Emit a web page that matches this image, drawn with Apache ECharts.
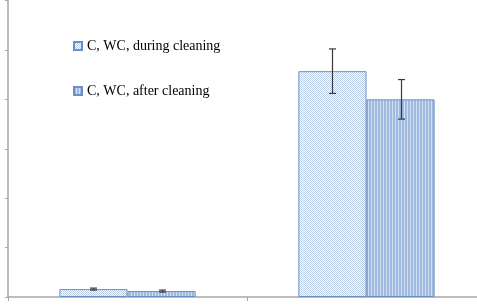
<!DOCTYPE html>
<html>
<head>
<meta charset="utf-8">
<script src="https://cdn.jsdelivr.net/npm/echarts@6/dist/echarts.min.js"></script>
<style>
  html, body { margin: 0; padding: 0; background: #fff; overflow: hidden; }
  /* plot area runs past the right edge of the picture, so the canvas is a bit wider */
  #chart { width: 486px; height: 307px; }
</style>
</head>
<body>
<div id="chart"></div>
<script>
// two groups, two series, error bars (axis 0..6)
const categories = ["A", "B"];
const seriesNames = ["C, WC, during cleaning", "C, WC, after cleaning"];
const duringVals = [0.16, 4.57];
const duringErr = [0.02, 0.45];
const afterVals = [0.12, 4.0];
const afterErr = [0.02, 0.4];
const yTicks = [0, 1, 2, 3, 4, 5, 6];

function pattern(w, h, draw) {
  const c = document.createElement("canvas");
  c.width = w; c.height = h;
  const ctx = c.getContext("2d");
  ctx.fillStyle = "#fff";
  ctx.fillRect(0, 0, w, h);
  draw(ctx);
  return { image: c, repeat: "repeat" };
}

const dots = pattern(2, 2, ctx => {
  ctx.fillStyle = "#b9cce8";
  ctx.fillRect(0, 0, 1, 1);
  ctx.fillRect(1, 1, 1, 1);
});
const stripes = pattern(3, 1, ctx => {
  ctx.fillStyle = "#9fbadf";
  ctx.fillRect(0, 0, 2, 1);
  ctx.fillStyle = "#d3dff0";
  ctx.fillRect(2, 0, 1, 1);
});

const chart = echarts.init(document.getElementById("chart"));
const catGap = 0.43;

function errorBars(vals, errs, side) {
  return {
    type: "custom",
    silent: true,
    z: 10,
    data: vals.map((v, i) => [i, v - errs[i], v + errs[i]]),
    renderItem(params, api) {
      const band = api.size([1, 0])[0];
      const off = side * band * (1 - catGap) / 4;
      const lo = api.coord([api.value(0), api.value(1)]);
      const hi = api.coord([api.value(0), api.value(2)]);
      const x = Math.round(lo[0] + off) + 0.5;
      const cap = 3.5;
      const style = { stroke: "#3a3a3a", lineWidth: 1.2, fill: null };
      return {
        type: "group",
        children: [
          { type: "line", shape: { x1: x, y1: hi[1], x2: x, y2: lo[1] }, style },
          { type: "line", shape: { x1: x - cap, y1: hi[1], x2: x + cap, y2: hi[1] }, style },
          { type: "line", shape: { x1: x - cap, y1: lo[1], x2: x + cap, y2: lo[1] }, style },
        ],
      };
    },
  };
}

chart.setOption({
  animation: false,
  grid: { left: 8, top: 0.5, right: 0, bottom: 10 },
  legend: {
    orient: "vertical",
    left: 73,
    top: 39,
    padding: 0,
    itemGap: 31,
    itemWidth: 8,
    itemHeight: 8,
    icon: "rect",
    data: seriesNames,
    textStyle: { fontFamily: "Liberation Serif", fontSize: 14, color: "#000" },
  },
  xAxis: {
    type: "category",
    data: categories,
    axisLine: { lineStyle: { color: "#a6a6a6", width: 1.5 } },
    axisTick: { show: true, length: 4, lineStyle: { color: "#a6a6a6" } },
    axisLabel: { show: false },
  },
  yAxis: {
    type: "value",
    min: yTicks[0],
    max: yTicks[yTicks.length - 1],
    interval: 1,
    splitLine: { show: false },
    axisLine: { show: true, lineStyle: { color: "#a6a6a6", width: 1.5 } },
    axisTick: { show: true, length: 3, lineStyle: { color: "#a6a6a6" } },
    axisLabel: { show: false },
  },
  series: [
    {
      name: seriesNames[0],
      type: "bar",
      data: duringVals,
      barGap: "0%",
      barCategoryGap: catGap * 100 + "%",
      itemStyle: { color: dots, borderColor: "#6a90c6", borderWidth: 1 },
    },
    {
      name: seriesNames[1],
      type: "bar",
      data: afterVals,
      itemStyle: { color: stripes, borderColor: "#6a90c6", borderWidth: 1 },
    },
    errorBars(duringVals, duringErr, -1),
    errorBars(afterVals, afterErr, 1),
  ],
});
</script>
</body>
</html>
